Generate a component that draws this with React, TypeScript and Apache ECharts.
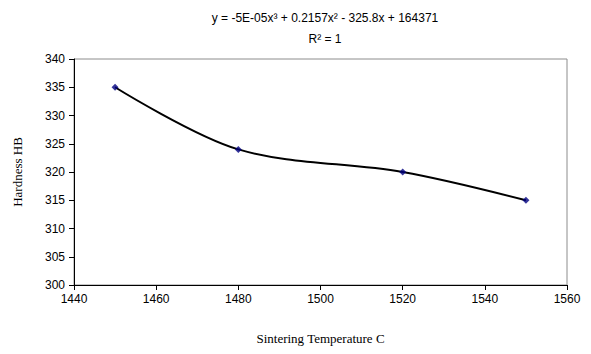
import React, { useEffect, useRef } from "react";
import * as echarts from "echarts";

const temperatures = [1450, 1480, 1520, 1550];
const hardness = [335, 324, 320, 315];
const titleLine1 = "y = -5E-05x³ + 0.2157x² - 325.8x + 164371";
const titleLine2 = "R² = 1";
const xTitle = "Sintering Temperature C";
const yTitle = "Hardness HB";

export default function App() {
  const ref = useRef<HTMLDivElement>(null);
  useEffect(() => {
    if (!ref.current) return;
    const chart = echarts.init(ref.current, null, { renderer: "svg" });
    const pts = temperatures.map((t, i) => [t, hardness[i]]);
    chart.setOption({
      animation: false,
      backgroundColor: "#ffffff",
      title: {
        text: titleLine1 + "\n" + titleLine2,
        left: 320,
        top: 2,
        textAlign: "center",
        textStyle: {
          fontFamily: "Liberation Sans, Arial, sans-serif",
          fontSize: 12,
          fontWeight: "normal",
          color: "#000",
          lineHeight: 21,
        },
      },
      grid: {
        left: 74,
        right: 24,
        top: 59,
        bottom: 69,
        show: true,
        borderColor: "#8c8c8c",
        borderWidth: 1,
        backgroundColor: "#ffffff",
      },
      xAxis: {
        type: "value",
        min: 1440,
        max: 1560,
        interval: 20,
        name: xTitle,
        nameLocation: "middle",
        nameGap: 47,
        nameTextStyle: {
          fontFamily: "Liberation Serif, Times New Roman, serif",
          fontSize: 13,
          color: "#000",
        },
        axisLine: { show: true, onZero: false, lineStyle: { color: "#000", width: 1 } },
        axisTick: { show: true, inside: false, length: 5, lineStyle: { color: "#000" } },
        axisLabel: {
          margin: 8,
          fontFamily: "Liberation Sans, Arial, sans-serif",
          fontSize: 12,
          color: "#000",
          formatter: (v: number) => String(v),
        },
        splitLine: { show: false },
      },
      yAxis: {
        type: "value",
        min: 300,
        max: 340,
        interval: 5,
        name: yTitle,
        nameLocation: "middle",
        nameGap: 50,
        nameRotate: 90,
        nameTextStyle: {
          fontFamily: "Liberation Serif, Times New Roman, serif",
          fontSize: 13,
          color: "#000",
        },
        axisLine: { show: true, onZero: false, lineStyle: { color: "#000", width: 1 } },
        axisTick: { show: true, inside: false, length: 5, lineStyle: { color: "#000" } },
        axisLabel: {
          margin: 9,
          fontFamily: "Liberation Sans, Arial, sans-serif",
          fontSize: 12,
          color: "#000",
        },
        splitLine: { show: false },
      },
      series: [
        {
          type: "line",
          data: pts,
          smooth: 0.33,
          symbol: "none",
          lineStyle: { color: "#000", width: 2 },
          z: 2,
        },
        {
          type: "scatter",
          data: pts,
          symbol: "diamond",
          symbolSize: 7,
          itemStyle: { color: "#000080" },
          z: 3,
        },
      ],
    });
    return () => chart.dispose();
  }, []);
  return <div ref={ref} style={{ width: 591, height: 354, margin: -8 }} />;
}
